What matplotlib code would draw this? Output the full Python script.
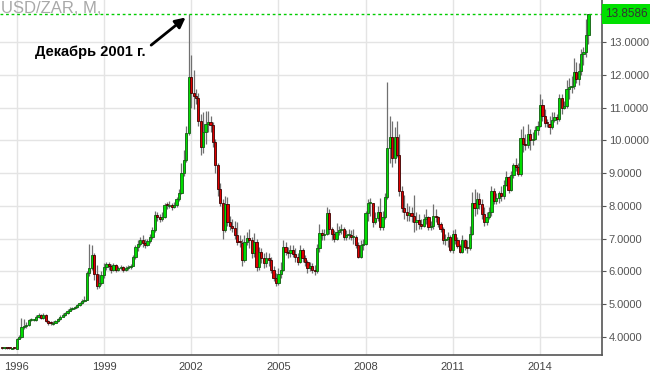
import matplotlib
matplotlib.use("Agg")
import matplotlib.pyplot as plt
import matplotlib.dates as mdates
from matplotlib.patches import Rectangle
from datetime import date
import numpy as np
import pandas as pd

plt.rcParams['font.family'] = ['Liberation Sans', 'DejaVu Sans']

# monthly USD/ZAR candles, Jul 1995 .. Sep 2015
months = pd.date_range("1995-07-01", "2015-09-01", freq="MS")
first_open = 3.66

closes = [
    3.65, 3.66, 3.65, 3.64, 3.65, 3.64,                                   # 1995
    3.95, 3.99, 4.30, 4.33, 4.35, 4.52, 4.53, 4.53, 4.62, 4.66, 4.58, 4.66,  # 1996
    4.50, 4.43, 4.40, 4.44, 4.48, 4.55, 4.62, 4.68, 4.72, 4.80, 4.86, 4.87,  # 1997
    4.90, 4.97, 5.04, 5.10, 5.14, 5.95, 6.10, 6.50, 5.92, 5.55, 5.65, 5.88,  # 1998
    6.13, 6.22, 6.18, 6.05, 6.20, 6.04, 6.10, 6.12, 6.05, 6.10, 6.14, 6.15,  # 1999
    6.44, 6.74, 6.85, 6.95, 6.88, 6.82, 6.92, 7.05, 7.26, 7.72, 7.66, 7.60,  # 2000
    7.66, 8.03, 8.00, 8.02, 7.97, 8.03, 8.20, 8.40, 9.00, 9.40, 10.22, 11.93,  # 2001
    11.44, 11.35, 11.30, 10.60, 9.80, 10.25, 10.50, 10.55, 10.46, 9.95, 9.24, 8.50,  # 2002
    8.08, 7.26, 8.05, 7.50, 7.40, 7.32, 7.10, 6.90, 6.88, 6.35, 6.90, 7.02,  # 2003
    6.95, 6.55, 6.90, 6.13, 6.60, 6.40, 6.25, 6.42, 6.35, 6.04, 5.80, 5.64,  # 2004
    5.92, 6.04, 6.75, 6.60, 6.55, 6.66, 6.52, 6.45, 6.30, 6.65, 6.40, 6.30,  # 2005
    6.10, 6.15, 6.05, 6.00, 6.70, 7.17, 7.10, 7.15, 7.78, 7.30, 7.15, 7.00,  # 2006
    7.20, 7.25, 7.30, 7.05, 7.10, 7.12, 7.05, 7.05, 6.80, 6.45, 6.80, 6.85,  # 2007
    7.78, 8.08, 8.10, 7.50, 7.62, 7.80, 7.35, 7.66, 8.27, 9.77, 10.10, 9.45,  # 2008
    10.10, 9.55, 8.45, 7.92, 7.80, 7.72, 7.78, 7.70, 7.50, 7.58, 7.45, 7.40,  # 2009
    7.60, 7.65, 7.35, 7.40, 7.70, 7.65, 7.45, 7.30, 6.95, 7.00, 7.05, 6.65,  # 2010
    7.15, 6.95, 6.78, 6.60, 6.95, 6.75, 6.70, 7.15, 8.08, 7.92, 8.20, 8.05,  # 2011
    7.75, 7.50, 7.66, 7.80, 8.45, 8.15, 8.25, 8.38, 8.30, 8.65, 8.88, 8.48,  # 2012
    8.94, 9.24, 9.20, 8.96, 10.07, 9.90, 9.85, 10.20, 10.02, 10.05, 10.32, 10.45,  # 2013
    11.07, 10.75, 10.52, 10.50, 10.40, 10.62, 10.70, 10.65, 11.30, 11.00, 11.05, 11.55,  # 2014
    11.62, 11.65, 12.08, 11.88, 12.12, 12.62, 12.68, 13.20, 13.8586,      # 2015
]

highs = [
    3.67, 3.68, 3.67, 3.66, 3.67, 3.66,
    3.98, 4.05, 4.58, 4.55, 4.45, 4.55, 4.58, 4.56, 4.68, 4.72, 4.70, 4.72,
    4.70, 4.52, 4.48, 4.50, 4.52, 4.58, 4.66, 4.72, 4.76, 4.85, 4.92, 4.92,
    4.96, 5.02, 5.08, 5.15, 5.25, 6.00, 6.84, 6.80, 6.55, 6.20, 5.92, 6.00,
    6.25, 6.28, 6.30, 6.22, 6.27, 6.22, 6.18, 6.20, 6.15, 6.18, 6.20, 6.22,
    6.50, 6.82, 6.95, 7.05, 7.10, 6.98, 7.00, 7.15, 7.35, 7.85, 7.80, 7.75,
    7.80, 8.10, 8.12, 8.15, 8.10, 8.12, 8.28, 8.50, 9.30, 9.70, 10.45, 13.84,
    12.60, 12.15, 11.55, 11.45, 10.80, 10.85, 10.90, 10.90, 10.75, 10.55, 10.05, 9.30,
    8.70, 8.20, 8.30, 8.27, 7.70, 7.60, 7.55, 7.50, 7.10, 7.00, 7.10, 7.20,
    7.30, 7.05, 7.17, 7.00, 6.75, 6.70, 6.55, 6.60, 6.55, 6.45, 6.15, 5.95,
    6.10, 6.30, 6.96, 6.90, 6.75, 6.80, 6.80, 6.70, 6.55, 6.80, 6.70, 6.50,
    6.35, 6.30, 6.25, 6.20, 6.85, 7.45, 7.30, 7.30, 7.98, 7.90, 7.35, 7.25,
    7.47, 7.40, 7.45, 7.35, 7.25, 7.30, 7.25, 7.30, 7.10, 6.90, 6.95, 7.00,
    7.85, 8.20, 8.25, 8.05, 7.80, 8.00, 8.24, 7.85, 8.40, 11.78, 10.73, 10.60,
    10.40, 10.60, 10.20, 8.60, 8.33, 8.08, 8.00, 7.95, 8.33, 7.80, 7.75, 7.60,
    7.75, 7.90, 7.70, 7.55, 8.05, 7.90, 7.70, 7.50, 7.35, 7.15, 7.20, 7.10,
    7.25, 7.30, 7.05, 6.85, 7.10, 7.00, 6.95, 7.40, 8.42, 8.50, 8.42, 8.40,
    8.20, 7.95, 7.80, 7.95, 8.60, 8.55, 8.40, 8.45, 8.60, 8.80, 9.05, 8.90,
    9.05, 9.30, 9.45, 9.30, 10.35, 10.45, 10.20, 10.50, 10.35, 10.25, 10.45, 10.60,
    11.40, 11.25, 10.95, 10.65, 10.75, 10.85, 10.85, 10.80, 11.40, 11.40, 11.20, 11.85,
    11.90, 11.95, 12.50, 12.40, 12.35, 12.80, 12.85, 13.70, 13.86,
]

lows = [
    3.63, 3.64, 3.63, 3.62, 3.63, 3.62,
    3.62, 3.93, 3.97, 4.25, 4.28, 4.32, 4.48, 4.49, 4.50, 4.58, 4.55, 4.56,
    4.46, 4.38, 4.36, 4.38, 4.42, 4.47, 4.53, 4.60, 4.65, 4.70, 4.78, 4.82,
    4.84, 4.88, 4.95, 5.00, 5.06, 5.12, 5.85, 6.05, 5.75, 5.45, 5.50, 5.60,
    5.80, 6.05, 6.05, 5.95, 6.00, 5.98, 6.00, 6.05, 5.98, 6.00, 6.05, 6.08,
    6.15, 6.38, 6.62, 6.78, 6.75, 6.72, 6.78, 6.88, 7.00, 7.20, 7.55, 7.50,
    7.55, 7.62, 7.90, 7.92, 7.88, 7.92, 7.98, 8.15, 8.35, 8.90, 9.35, 10.15,
    11.00, 10.95, 11.10, 10.45, 9.55, 9.60, 9.90, 10.25, 10.25, 9.80, 9.00, 8.30,
    8.00, 7.00, 7.20, 7.40, 7.25, 7.20, 7.00, 6.80, 6.75, 6.15, 6.30, 6.80,
    6.70, 6.40, 6.45, 6.00, 6.05, 6.25, 6.10, 6.12, 6.15, 5.95, 5.70, 5.55,
    5.60, 5.80, 6.00, 6.50, 6.40, 6.45, 6.45, 6.30, 6.20, 6.25, 6.30, 6.15,
    5.95, 6.00, 5.95, 5.90, 5.95, 6.60, 6.95, 6.95, 7.10, 7.15, 6.95, 6.90,
    6.95, 7.10, 7.15, 6.95, 6.95, 7.00, 6.95, 6.85, 6.70, 6.40, 6.40, 6.65,
    6.80, 7.55, 7.70, 7.35, 7.45, 7.55, 7.25, 7.25, 7.60, 8.20, 9.30, 9.20,
    9.30, 9.50, 8.30, 7.80, 7.60, 7.55, 7.55, 7.50, 7.20, 7.25, 7.30, 7.30,
    7.35, 7.45, 7.25, 7.25, 7.30, 7.50, 7.35, 7.20, 6.85, 6.80, 6.75, 6.60,
    6.55, 6.85, 6.70, 6.55, 6.55, 6.65, 6.55, 6.65, 7.10, 7.70, 7.75, 7.90,
    7.60, 7.40, 7.42, 7.60, 7.70, 8.05, 8.05, 8.10, 8.15, 8.20, 8.60, 8.40,
    8.45, 8.85, 9.05, 8.90, 8.90, 9.65, 9.70, 9.75, 9.70, 9.85, 10.00, 10.15,
    10.40, 10.60, 10.40, 10.40, 10.20, 10.35, 10.55, 10.50, 10.60, 10.80, 10.95, 11.00,
    11.25, 11.45, 11.55, 11.75, 11.70, 12.00, 12.30, 12.55, 12.95,
]

year_ticks = [1996, 1999, 2002, 2005, 2008, 2011, 2014]
price_ticks = [4, 5, 6, 7, 8, 9, 10, 11, 12, 13]
last_price = 13.8586
peak_label = "Декабрь 2001 г."
peak_date = date(2001, 12, 1)
peak_high = 13.80

assert len(months) == len(closes) == len(highs) == len(lows)

opens = [first_open] + closes[:-1]
x = mdates.date2num(months.to_pydatetime())
o = np.array(opens)
c = np.array(closes)
up = c >= o

fig = plt.figure(figsize=(6.5, 3.76), dpi=100)
ax = fig.add_axes([0.0, 21 / 376, 601.7 / 650, 355 / 376])

ax.vlines(x, lows, highs, color='#707070', linewidth=0.9, zorder=2)
body = np.where(np.abs(c - o) < 0.03, 0.03, c - o)
ax.bar(x, body, bottom=o, width=28,
       color=np.where(up, '#00dd00', '#e00000'),
       edgecolor=np.where(up, '#105c10', '#3c0000'),
       linewidth=0.6, zorder=3)

ax.axhline(last_price, color='#00cc00', linestyle=(0, (2, 2)), linewidth=1, zorder=4)

ax.set_xlim(mdates.date2num(date(1995, 6, 5)), mdates.date2num(date(2016, 2, 15)))
ax.set_ylim(3.45, 14.28)

ax.set_xticks([mdates.date2num(date(y, 1, 1)) for y in year_ticks])
ax.set_xticklabels([str(y) for y in year_ticks])
ax.set_yticks(price_ticks)
ax.set_yticklabels([f"{v:.4f}" for v in price_ticks])
ax.yaxis.tick_right()
ax.tick_params(axis='y', colors='#555555', labelsize=8, length=3, width=0.8, pad=2)
ax.tick_params(axis='x', colors='#444444', labelsize=8, length=0, pad=5)
ax.grid(True, color='#e4e4e4', linewidth=1, zorder=0)
ax.set_axisbelow(True)

for side in ['left', 'top']:
    ax.spines[side].set_visible(False)
for side in ['bottom', 'right']:
    ax.spines[side].set_color('#555555')
    ax.spines[side].set_linewidth(1.2)

# title inside the plot
fig.text(0.001, 0.998, "USD/ZAR, M,", ha='left', va='top', fontsize=12, color='#a8a8a8')

# peak annotation
ax.annotate('', xy=(mdates.date2num(peak_date) - 12, peak_high),
            xytext=(mdates.date2num(date(2000, 7, 20)), 12.85),
            arrowprops=dict(arrowstyle='-|>', color='black', lw=2, mutation_scale=15),
            zorder=6)
ax.text(mdates.date2num(date(1998, 7, 10)), 12.68, peak_label, ha='center', va='center',
        fontsize=10.5, fontweight='bold', color='black', zorder=6)

# current price box on the right axis
ypix = ax.transData.transform((0, last_price))[1]
fig.patches.append(Rectangle((602 / 650, (ypix - 10) / 376), 48 / 650, 20 / 376,
                             transform=fig.transFigure, facecolor='#00e000',
                             edgecolor='none', zorder=10))
fig.text(605 / 650, ypix / 376, f"{last_price:.4f}", ha='left', va='center',
         fontsize=8.5, color='#333333', zorder=11)

fig.savefig("out.png", dpi=100)
